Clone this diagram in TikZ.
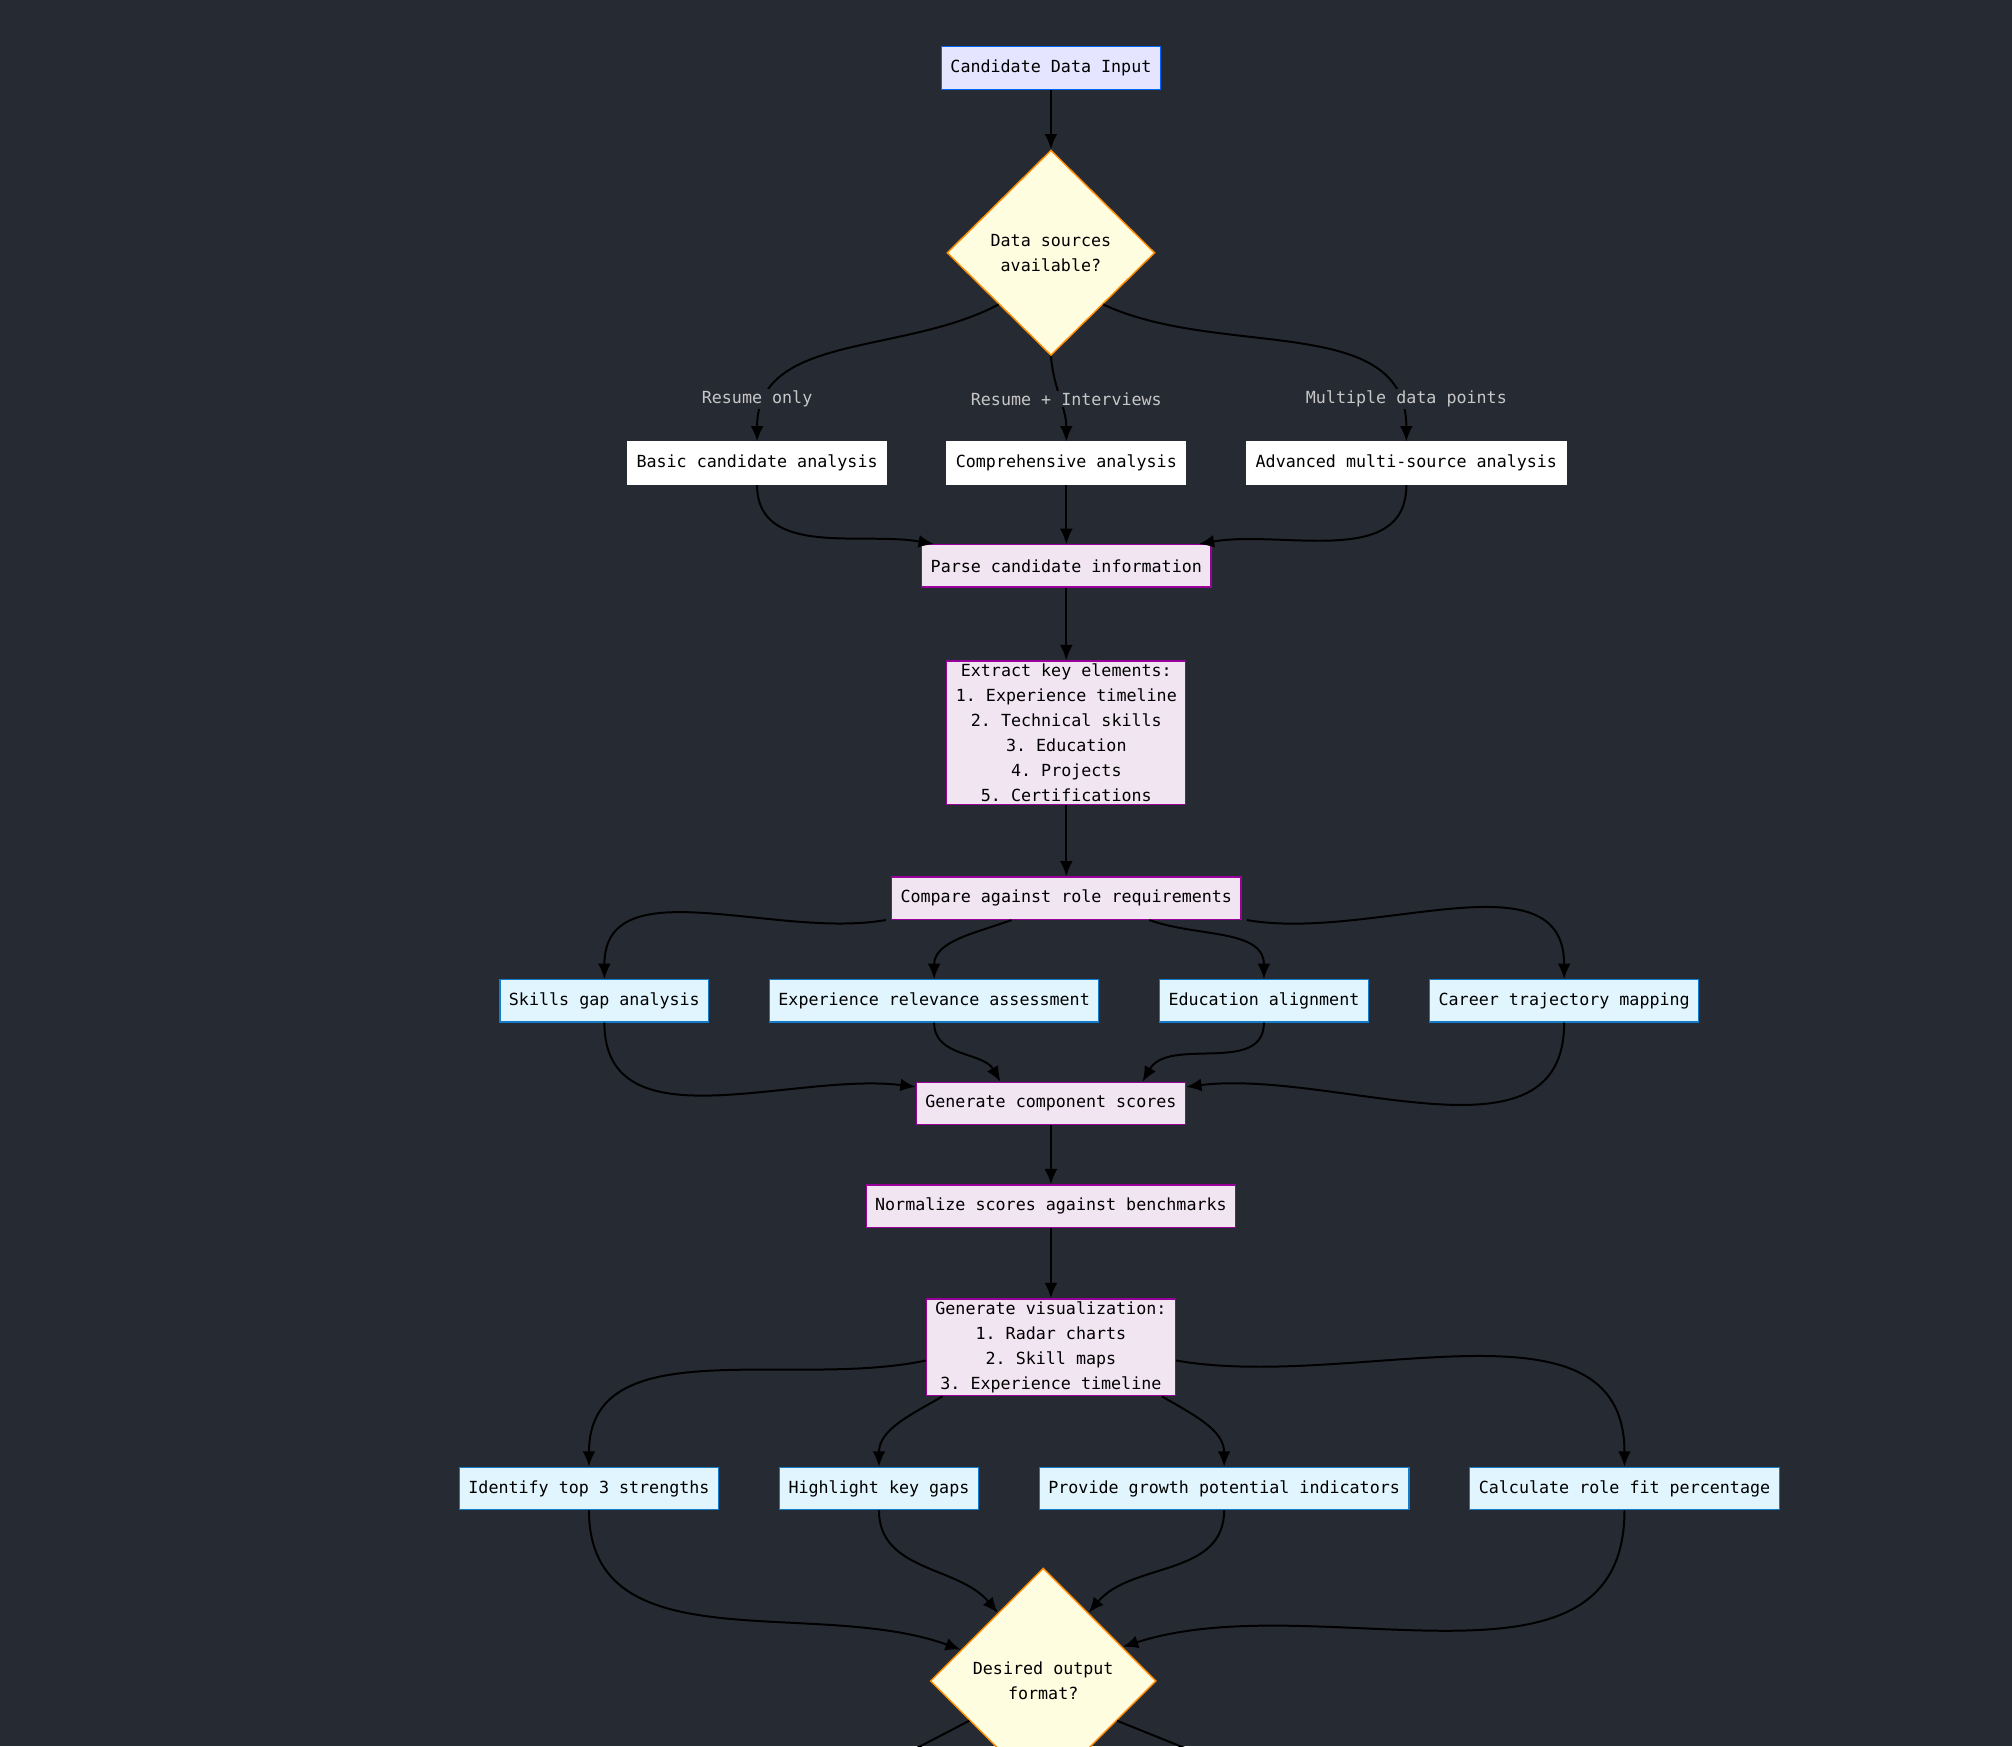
\documentclass[tikz,border=0pt]{standalone}
\usepackage{fontspec}
\setmonofont{DejaVu Sans Mono}
\usetikzlibrary{arrows.meta,shapes.geometric,calc}
\definecolor{bgdark}{HTML}{262A33}
\tikzset{
    box/.style={
        draw,
        rectangle,
        line width=1.4pt,
        minimum height=1.65cm,
        inner xsep=0.35cm,
        align=center,
        font=\ttfamily\fontsize{18.5}{27.6}\selectfont
    },
    startbox/.style={box, draw=blue!60!cyan, fill=blue!10!white},
    plainbox/.style={box, draw=white, fill=white},
    stepbox/.style={box, draw=violet!80!magenta, fill=violet!10!white},
    subbox/.style={box, draw=cyan!60!blue, fill=cyan!12!white},
    decision/.style={
        draw=orange!90!yellow,
        fill=yellow!12!white,
        diamond,
        line width=1.6pt,
        minimum width=8.1cm,
        minimum height=8cm,
        inner sep=0pt,
        align=center,
        font=\ttfamily\fontsize{18.5}{27.6}\selectfont
    },
    elabel/.style={
        text=white!78!black,
        fill=bgdark,
        inner sep=2pt,
        font=\ttfamily\fontsize{18.5}{22}\selectfont
    },
    flow/.style={
        draw=black,
        line width=2.2pt,
        -{Latex[length=0.6cm, width=0.5cm]}
    }
}

\begin{document}
\begin{tikzpicture}[x=0.05cm, y=-0.05cm]
    % background
    \fill[bgdark] (0,0) rectangle (1568,1361);
    \useasboundingbox (0,0) rectangle (1568,1361);

    % Input and first decision
    \node[startbox] (input) at (819,53) {Candidate Data Input};
    \node[decision] (sources) at (819,197) {Data sources\\available?};

    % Analysis paths
    \node[plainbox] (basic) at (590,361) {Basic candidate analysis};
    \node[plainbox] (compr) at (831,361) {Comprehensive analysis};
    \node[plainbox] (multi) at (1096,361) {Advanced multi-source analysis};

    % Parsing
    \node[stepbox] (parse) at (831,441) {Parse candidate information};
    \node[stepbox] (extract) at (831,571) {Extract key elements:\\1. Experience timeline\\2. Technical skills\\3. Education\\4. Projects\\5. Certifications};
    \node[stepbox] (compare) at (831,700) {Compare against role requirements};

    % Assessments
    \node[subbox] (skills) at (471,780) {Skills gap analysis};
    \node[subbox] (exper) at (728,780) {Experience relevance assessment};
    \node[subbox] (educ) at (985,780) {Education alignment};
    \node[subbox] (career) at (1219,780) {Career trajectory mapping};

    % Scoring
    \node[stepbox] (scores) at (819,860) {Generate component scores};
    \node[stepbox] (norm) at (819,940) {Normalize scores against benchmarks};
    \node[stepbox] (viz) at (819,1050) {Generate visualization:\\1. Radar charts\\2. Skill maps\\3. Experience timeline};

    % Outputs
    \node[subbox] (top) at (459,1160) {Identify top 3 strengths};
    \node[subbox] (gaps) at (685,1160) {Highlight key gaps};
    \node[subbox] (growth) at (954,1160) {Provide growth potential indicators};
    \node[subbox] (fit) at (1266,1160) {Calculate role fit percentage};

    \node[decision, minimum width=8.8cm, minimum height=8.8cm] (format) at (813,1310) {Desired output\\format?};
    \coordinate (outL) at (690,1375);
    \coordinate (outR) at (955,1375);

    % Connectors
    \draw[flow] (input) -- (sources);
    \draw[flow] (sources.south west) to[out=-152,in=90] (basic.north);
    \draw[flow] (sources.south) to[out=-85,in=90] (compr.north);
    \draw[flow] (sources.south east) to[out=-25,in=90] (multi.north);
    \node[elabel] (lbasic) at (590,311) {Resume only};
    \node[elabel] (lcompr) at (831,311) {Resume + Interviews};
    \node[elabel] (lmulti) at (1096,311) {Multiple data points};

    \draw[flow] (basic.south) to[out=-90,in=170] ([xshift=0.5cm]parse.north west);
    \draw[flow] (compr) -- (parse);
    \draw[flow] (multi.south) to[out=-90,in=10] ([xshift=-0.5cm]parse.north east);
    \draw[flow] (parse) -- (extract);
    \draw[flow] (extract) -- (compare);

    \draw[flow] ([xshift=-0.2cm]compare.south west) to[out=-170,in=90] (skills.north);
    \draw[flow] ([xshift=4.7cm]compare.south west) to[out=-160,in=90] (exper.north);
    \draw[flow] ([xshift=-3.6cm]compare.south east) to[out=-20,in=90] (educ.north);
    \draw[flow] ([xshift=0.2cm]compare.south east) to[out=-10,in=90] (career.north);

    \draw[flow] (skills.south) to[out=-90,in=173] ([yshift=-0.2cm]scores.north west);
    \draw[flow] (exper.south) to[out=-90,in=120] ([xshift=3.3cm]scores.north west);
    \draw[flow] (educ.south) to[out=-90,in=60] ([xshift=-1.7cm]scores.north east);
    \draw[flow] (career.south) to[out=-90,in=7] ([yshift=-0.2cm]scores.north east);

    \draw[flow] (scores) -- (norm);
    \draw[flow] (norm) -- (viz);

    \draw[flow] ([yshift=1.4cm]viz.south west) to[out=-168,in=90] (top.north);
    \draw[flow] ([xshift=0.65cm]viz.south west) to[out=-150,in=90] (gaps.north);
    \draw[flow] ([xshift=-0.55cm]viz.south east) to[out=-30,in=90] (growth.north);
    \draw[flow] ([yshift=1.4cm]viz.south east) to[out=-10,in=90] (fit.north);

    \draw[flow] (top.south) to[out=-90,in=160] ($(format.north west)!0.45!(format.west)$);
    \draw[flow] (gaps.south) to[out=-90,in=130] ($(format.north west)!0.2!(format.north)$);
    \draw[flow] (growth.south) to[out=-90,in=50] ($(format.north east)!0.2!(format.north)$);
    \draw[flow] (fit.south) to[out=-90,in=18] ($(format.north east)!0.4!(format.east)$);

    \draw[line width=2.2pt] ($(format.south west)!0.3!(format.west)$) -- (outL);
    \draw[line width=2.2pt] ($(format.south east)!0.3!(format.east)$) -- (outR);
\end{tikzpicture}
\end{document}
